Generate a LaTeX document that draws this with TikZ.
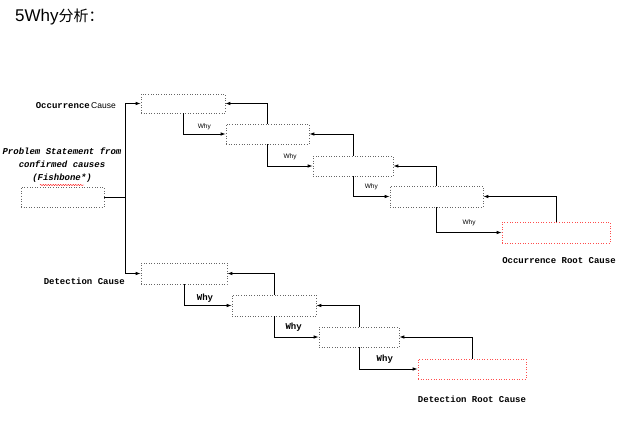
\documentclass[tikz,border=0pt]{standalone}
\usepackage{fontspec}
\setmainfont{Liberation Sans}
\newfontfamily\monof{Liberation Mono}
\newfontfamily\cjkf{Noto Sans CJK SC}
\usetikzlibrary{arrows.meta,decorations.pathmorphing}
\begin{document}
\begin{tikzpicture}[x=1pt,y=-1pt,
  box/.style={draw=black!60,dotted,line width=0.6pt,minimum height=20pt,inner sep=0pt},
  rootbox/.style={draw=red!70,dotted,line width=0.6pt,minimum height=20pt,inner sep=0pt},
  arr/.style={line width=0.8pt,-{Latex[length=5pt,width=3.5pt]}},
  ln/.style={line width=0.8pt},
  whys/.style={font=\fontsize{6.5}{7}\selectfont,inner sep=1pt},
  whym/.style={font=\monof\bfseries\fontsize{9}{10}\selectfont,inner sep=1pt},
  lab/.style={font=\monof\bfseries\fontsize{9}{10}\selectfont,inner sep=0pt}]
\useasboundingbox (0,0) rectangle (627,425);
% title
\node[anchor=west,inner sep=0pt] (title) at (15,17) {\fontsize{17}{20}\selectfont 5Why{\cjkf\fontsize{15}{18}\selectfont 分析：}};
% problem
\node[box,minimum width=83pt] (p) at (62.5,197) {};
\node[lab,align=center,font=\monof\bfseries\itshape\fontsize{9}{13}\selectfont] (pt) at (62,165) {Problem Statement from\\confirmed causes\\(Fishbone*)};
\draw[red,line width=0.4pt,decorate,decoration={snake,segment length=2.5pt,amplitude=0.6pt}] (40,185) coordinate (w1) -- (84,185) coordinate (w2);
% occurrence chain
\node[box,minimum width=84pt,minimum height=19pt] (o1) at (183,103.5) {};
\node[box,minimum width=83pt] (o2) at (267.5,134) {};
\node[box,minimum width=80pt] (o3) at (353,166) {};
\node[box,minimum width=93pt,minimum height=21pt] (o4) at (436.5,196.5) {};
\node[rootbox,minimum width=108pt,minimum height=21pt] (o5) at (556,232.5) {};
% detection chain
\node[box,minimum width=86pt,minimum height=21pt] (d1) at (184,273.5) {};
\node[box,minimum width=84pt,minimum height=21pt] (d2) at (274,305.5) {};
\node[box,minimum width=80pt] (d3) at (359,337) {};
\node[rootbox,minimum width=108pt] (d4) at (472,369) {};
% labels
\node[anchor=east,inner sep=0pt] (oc) at (116,106) {{\monof\bfseries\fontsize{9}{10}\selectfont Occurrence}\fontsize{8.5}{10}\selectfont\,Cause};
\node[lab,anchor=east] (dc) at (125,281) {Detection Cause};
\node[lab] (orc) at (559,261) {Occurrence Root Cause};
\node[lab] (drc) at (472,399) {Detection Root Cause};
% branch
\draw[ln] (p.east) -- ++(21,0) coordinate (j);
\draw[arr] (j) |- (o1.west);
\draw[arr] (j) |- (d1.west);
% occurrence connectors
\draw[arr] (o1.south) |- node[whys,pos=0.75,above=3pt] {Why} (o2.west);
\draw[arr] (o2.north) |- (o1.east);
\draw[arr] (o2.south) |- node[whys,pos=0.75,above=5pt] {Why} (o3.west);
\draw[arr] (o3.north) |- (o2.east);
\draw[arr] (o3.south) |- node[whys,pos=0.75,above=5pt] {Why} (o4.west);
\draw[arr] (o4.north) |- (o3.east);
\draw[arr] (o4.south) |- node[whys,pos=0.75,above=5pt] {Why} (o5.west);
\draw[arr] (o5.north) |- (o4.east);
% detection connectors
\draw[arr] (d1.south) |- node[whym,pos=0.72,above=2pt] {Why} (d2.west);
\draw[arr] (d2.north) |- (d1.east);
\draw[arr] (d2.south) |- node[whym,pos=0.72,above=4pt] {Why} (d3.west);
\draw[arr] (d3.north) |- (d2.east);
\draw[arr] (d3.south) |- node[whym,pos=0.72,above=4pt] {Why} (d4.west);
\draw[arr] (d4.north) |- (d3.east);
\end{tikzpicture}
\end{document}
